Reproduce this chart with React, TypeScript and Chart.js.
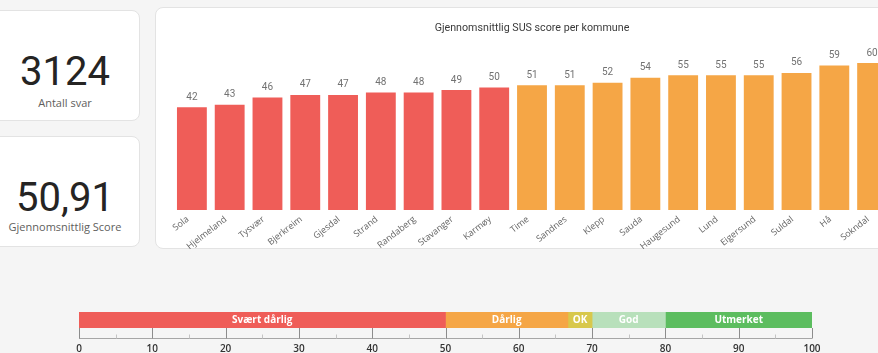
import React, { useEffect, useRef } from 'react';
import { Chart, registerables } from 'chart.js';
Chart.register(...registerables);

// ---- data ----
const kommuner = ['Sola', 'Hjelmeland', 'Tysvær', 'Bjerkreim', 'Gjesdal', 'Strand', 'Randaberg', 'Stavanger', 'Karmøy', 'Time', 'Sandnes', 'Klepp', 'Sauda', 'Haugesund', 'Lund', 'Eigersund', 'Suldal', 'Hå', 'Sokndal'];
const scores = [42, 43, 46, 47, 47, 48, 48, 49, 50, 51, 51, 52, 54, 55, 55, 55, 56, 59, 60];
const chartTitle = 'Gjennomsnittlig SUS score per kommune';
const kpiValues = ['3124', '50,91'];
const kpiLabels = ['Antall svar', 'Gjennomsnittlig Score'];
const segmentLabels = ['Svært dårlig', 'Dårlig', 'OK', 'God', 'Utmerket'];
const segmentStarts = [0, 50, 66.7, 70, 80];
const segmentEnds = [50, 66.7, 70, 80, 100];
const segmentColors = ['#EF5D58', '#F5A646', '#D8C84C', '#B8E0BB', '#5CBD5F'];

const barColor = (v: number) => {
  const i = segmentEnds.findIndex((e) => v <= e);
  return segmentColors[i < 0 ? segmentColors.length - 1 : i];
};

const barLabelPlugin = {
  id: 'barLabels',
  afterDatasetsDraw(chart: any) {
    const ctx = chart.ctx;
    const meta = chart.getDatasetMeta(0);
    ctx.save();
    ctx.font = '10px Roboto';
    ctx.fillStyle = '#727272';
    ctx.textAlign = 'center';
    ctx.textBaseline = 'bottom';
    meta.data.forEach((el: any, i: number) => {
      ctx.fillText(String(chart.data.datasets[0].data[i]), el.x, el.y - 5);
    });
    ctx.restore();
  },
};

const rulerPlugin = {
  id: 'ruler',
  afterDatasetsDraw(chart: any) {
    const ctx = chart.ctx;
    const xs = chart.scales.x;
    const bottom = chart.chartArea.bottom;
    const base = Math.round(bottom + 10) + 0.5;
    ctx.save();
    ctx.lineWidth = 1;
    ctx.strokeStyle = '#a6a6a6';
    ctx.beginPath();
    ctx.moveTo(xs.getPixelForValue(xs.min), base);
    ctx.lineTo(xs.getPixelForValue(xs.max), base);
    ctx.stroke();
    for (let v = xs.min; v <= xs.max; v += 5) {
      const px = Math.round(xs.getPixelForValue(v)) + 0.5;
      const major = v % 10 === 0;
      ctx.strokeStyle = major ? '#8c8c8c' : '#c4c4c4';
      ctx.beginPath();
      ctx.moveTo(px, major ? bottom : base - 4);
      ctx.lineTo(px, base);
      ctx.stroke();
    }
    ctx.font = 'bold 10px "Open Sans"';
    ctx.fillStyle = '#ffffff';
    ctx.textAlign = 'center';
    ctx.textBaseline = 'middle';
    chart.data.datasets.forEach((ds: any, i: number) => {
      const el = chart.getDatasetMeta(i).data[0];
      ctx.fillText(segmentLabels[i], (el.x + el.base) / 2, el.y + 0.5);
    });
    ctx.restore();
  },
};

function SusChart() {
  const ref = useRef<HTMLCanvasElement>(null);
  useEffect(() => {
    const chart = new Chart(ref.current!, {
      type: 'bar',
      data: {
        labels: kommuner,
        datasets: [
          {
            data: scores,
            backgroundColor: scores.map(barColor),
            borderWidth: 0,
            barPercentage: 0.79,
            categoryPercentage: 1,
          },
        ],
      },
      options: {
        responsive: false,
        maintainAspectRatio: false,
        animation: false,
        events: [],
        layout: { padding: { left: 18, right: 14, top: 0, bottom: 0 } },
        plugins: {
          legend: { display: false },
          tooltip: { enabled: false },
          title: {
            display: true,
            text: chartTitle,
            color: '#3a3a3a',
            font: { family: 'Roboto', size: 10.7, weight: '400' as any },
            padding: { top: 15, bottom: 3.8 },
          },
        },
        scales: {
          x: {
            grid: { display: false, drawTicks: false },
            border: { display: false },
            ticks: {
              autoSkip: false,
              minRotation: 38,
              maxRotation: 38,
              padding: 4,
              labelOffset: -4,
              color: '#666666',
              font: { family: 'Open Sans', size: 9 },
            },
            afterFit: (axis: any) => {
              axis.height = 39;
            },
          },
          y: { display: false, min: 0, max: 70 },
        },
      },
      plugins: [barLabelPlugin],
    });
    return () => chart.destroy();
  }, []);
  return <canvas ref={ref} width={750} height={242} style={{ position: 'absolute', left: 155, top: 7, width: 750, height: 242 }} />;
}

function ScaleChart() {
  const ref = useRef<HTMLCanvasElement>(null);
  useEffect(() => {
    const chart = new Chart(ref.current!, {
      type: 'bar',
      data: {
        labels: [''],
        datasets: segmentLabels.map((lab, i) => ({
          label: lab,
          data: [[segmentStarts[i], segmentEnds[i]]] as any,
          backgroundColor: segmentColors[i],
          borderWidth: 0,
          barPercentage: 1,
          categoryPercentage: 1,
          grouped: false,
        })),
      },
      options: {
        indexAxis: 'y',
        responsive: false,
        maintainAspectRatio: false,
        animation: false,
        events: [],
        layout: { padding: { left: 19, right: 28, top: 12, bottom: 0 } },
        plugins: { legend: { display: false }, tooltip: { enabled: false } },
        scales: {
          x: {
            min: 0,
            max: 100,
            grid: { display: false, drawTicks: false },
            border: { display: false },
            ticks: {
              stepSize: 10,
              padding: 15,
              color: '#333333',
              font: { family: 'Open Sans', size: 10, weight: '600' as any },
            },
            afterFit: (axis: any) => {
              axis.height = 25;
            },
          },
          y: { display: false },
        },
      },
      plugins: [rulerPlugin],
    });
    return () => chart.destroy();
  }, []);
  return <canvas ref={ref} width={780} height={53} style={{ position: 'absolute', left: 60, top: 300, width: 780, height: 53 }} />;
}

const card: React.CSSProperties = {
  position: 'absolute',
  background: '#ffffff',
  border: '1px solid #e3e3e3',
  borderRadius: 8,
  boxSizing: 'border-box',
};

export default function App() {
  return (
    <div style={{ position: 'fixed', left: 0, top: 0, width: 878, height: 353, overflow: 'hidden', background: '#f5f5f5' }}>
      <div style={{ ...card, left: -10, top: 10, width: 150, height: 111 }} />
      <div style={{ ...card, left: -10, top: 136, width: 150, height: 111 }} />
      <div style={{ ...card, left: 155, top: 7, width: 760, height: 242 }} />
      {[0, 1].map((i) => (
        <React.Fragment key={i}>
          <div style={{ position: 'absolute', left: -10, width: 150, top: i === 0 ? 52 : 178, textAlign: 'center', fontFamily: 'Roboto', fontSize: 40, lineHeight: '40px', color: '#252423' }}>
            {kpiValues[i]}
          </div>
          <div style={{ position: 'absolute', left: -10, width: 150, top: i === 0 ? 96 : 220, textAlign: 'center', fontFamily: '"Open Sans"', fontSize: 11, lineHeight: '14px', color: '#605e5c' }}>
            {kpiLabels[i]}
          </div>
        </React.Fragment>
      ))}
      <SusChart />
      <ScaleChart />
    </div>
  );
}
